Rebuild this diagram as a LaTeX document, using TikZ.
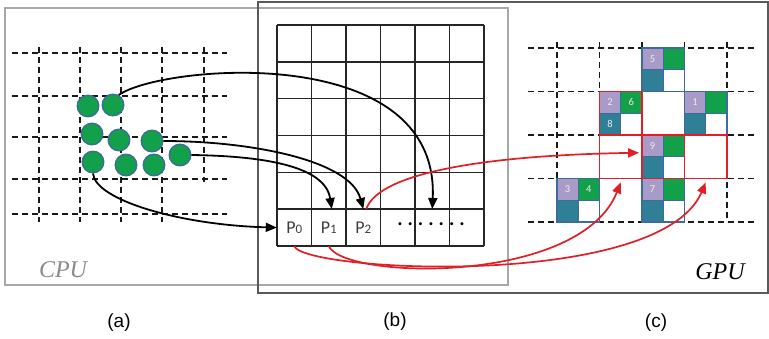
\documentclass[tikz,border=0pt]{standalone}
\usepackage{fontspec}
\setmainfont{Liberation Serif}
\newfontfamily\calib{Carlito}
\newfontfamily\arialf{Liberation Sans}
\usetikzlibrary{arrows.meta}
\definecolor{cgreen}{HTML}{13A04B}
\definecolor{cedge}{HTML}{3A6E96}
\definecolor{gpurp}{HTML}{A89BC8}
\definecolor{gteal}{HTML}{2F7F96}
\definecolor{gline}{HTML}{3D6B9C}
\definecolor{rd}{HTML}{E21F26}
\definecolor{frameA}{HTML}{A8A8A8}
\definecolor{frameB}{HTML}{5A5A5A}
\definecolor{cputxt}{HTML}{8A8A8A}
\newcommand\gblk[6]{%
 \fill[gpurp] (#1,#2) rectangle ++(21.25,21.75);
 \fill[cgreen] (#1+21.25,#2) rectangle ++(21.25,21.75);
 \fill[gteal] (#1,#2+21.75) rectangle ++(21.25,21.75);
 \fill[white] (#1+21.25,#2+21.75) rectangle ++(21.25,21.75);
 \draw[blkline] (#1+21.25,#2) -- ++(0,43.5) (#1,#2+21.75) -- ++(42.5,0);
 \draw[blkline] (#1,#2) rectangle ++(42.5,43.5);
 \node[blab] (#6a) at (#1+10.6,#2+10.9) {#3};
 \node[blab] (#6b) at (#1+31.9,#2+10.9) {#4};
 \node[blab] (#6c) at (#1+10.6,#2+32.6) {#5};
}
\begin{document}
\begin{tikzpicture}[x=1pt,y=-1pt,
  dashln/.style={black!90,line width=1.6pt,dash pattern=on 6pt off 4pt},
  gridb/.style={black!85,line width=1.6pt},
  dot/.style={circle,fill=cgreen,draw=cedge,line width=1.4pt,minimum size=21.5pt,inner sep=0pt},
  cellb/.style={minimum width=34.5pt,minimum height=36.8pt,inner sep=0pt,text=black!75,font=\calib\fontsize{18}{18}\selectfont},
  blkline/.style={gline,line width=1.4pt},
  blab/.style={inner sep=0pt,text=white!92!black,font=\calib\fontsize{10.5}{10.5}\selectfont},
  redsq/.style={draw=rd,line width=1.8pt,minimum width=42.5pt,minimum height=43.5pt,inner sep=0pt},
  blkarr/.style={black,line width=1.8pt,-{Triangle[length=11pt,width=9pt]}},
  redarr/.style={rd,line width=1.7pt,-{Triangle[length=11pt,width=9pt]}},
  sublab/.style={font=\arialf\fontsize{19}{19}\selectfont,inner sep=0pt}
]
\useasboundingbox (0,0) rectangle (769,338);
\fill[white] (0,0) rectangle (769,338);
% frames
\draw[frameA,line width=1.2pt] (5,8) rectangle (508,285);
\draw[frameB,line width=1.4pt] (258,2) rectangle (768,293);
% CPU dashed grid
\foreach \y in {53,96,137,179,214} \draw[dashln] (12,\y) -- (227,\y);
\foreach \x in {39,80,121,162} \draw[dashln] (\x,47) -- (\x,222);
\draw[dashln] (204,47) -- (204,182);
% GPU dashed grid
\foreach \y in {48,91.5,135,178.5,222} \draw[dashln] (528,\y) -- (755,\y);
\foreach \x in {557,599.5,642,684.5,727} \draw[dashln] (\x,42) -- (\x,222);
% grid (b)
\foreach \i in {0,...,6} \draw[gridb] (277+34.5*\i,25) -- (277+34.5*\i,246);
\foreach \j in {0,...,6} \draw[gridb] (277,25+36.833*\j) -- (484,25+36.833*\j);
\node[cellb] (p0) at (294.25,227.6) {P\fontsize{13}{13}\selectfont 0};
\node[cellb] (p1) at (328.75,227.6) {P\fontsize{13}{13}\selectfont 1};
\node[cellb] (p2) at (363.25,227.6) {P\fontsize{13}{13}\selectfont 2};
\node[cellb] (p3) at (397.75,227.6) {};
\node[cellb] (p4) at (432.25,227.6) {};
\node[cellb] (p5) at (466.75,227.6) {};
\node[inner sep=0pt,font=\calib\bfseries\fontsize{20}{20}\selectfont] (dots) at (431,224) {.\kern5pt.\kern5pt.\kern5pt.\kern5pt.\kern5pt.\kern5pt.};
% GPU blocks
\gblk{642}{48}{5}{}{}{k5}
\gblk{599.5}{91.5}{2}{6}{8}{k2}
\gblk{684.5}{91.5}{1}{}{}{k1}
\gblk{642}{135}{9}{}{}{k9}
\gblk{557}{178.5}{3}{4}{}{k3}
\gblk{642}{178.5}{7}{}{}{k7}
\node[redsq] (r11) at (620.75,113.25) {};
\node[redsq] (r12) at (620.75,156.75) {};
\node[redsq] (r22) at (663.25,156.75) {};
\node[redsq] (r32) at (705.75,156.75) {};
% CPU points
\node[dot] (c1) at (88,106) {};
\node[dot] (c2) at (113,105) {};
\node[dot] (c3) at (92,134) {};
\node[dot] (c4) at (119,140) {};
\node[dot] (c5) at (152,141) {};
\node[dot] (c6) at (180,155) {};
\node[dot] (c7) at (93,162) {};
\node[dot] (c8) at (126,165) {};
\node[dot] (c9) at (154,165) {};
% black arrows
\draw[blkarr] (c2.60) .. controls (160,65) and (440,40) .. (p4.north);
\draw[blkarr] (c5.east) .. controls (250,141) and (350,160) .. (p2.north);
\draw[blkarr] (c6.east) .. controls (260,156) and (325,165) .. ([xshift=3pt]p1.north);
\draw[blkarr] (c7.south) .. controls (95,200) and (180,225) .. (p0.west);
% red arrows
\draw[redarr] ([xshift=3pt]p2.north) .. controls (380,170) and (500,155) .. ([xshift=-2pt,yshift=4pt]r22.west);
\draw[redarr] (p1.south) .. controls (345,280) and (580,285) .. ([yshift=-3pt]r12.south);
\draw[redarr] (p0.south) .. controls (305,272) and (660,290) .. ([yshift=-3pt]r32.south);
% labels
\node[text=cputxt,font=\fontsize{24}{24}\selectfont\itshape,inner sep=0pt] (cpu) at (63,270) {CPU};
\node[text=black,font=\fontsize{24}{24}\selectfont\itshape,inner sep=0pt] (gpu) at (720,272) {GPU};
\node[sublab] (la) at (119,323) {(a)};
\node[sublab] (lb) at (395,322) {(b)};
\node[sublab] (lc) at (656,323) {(c)};
\end{tikzpicture}
\end{document}
